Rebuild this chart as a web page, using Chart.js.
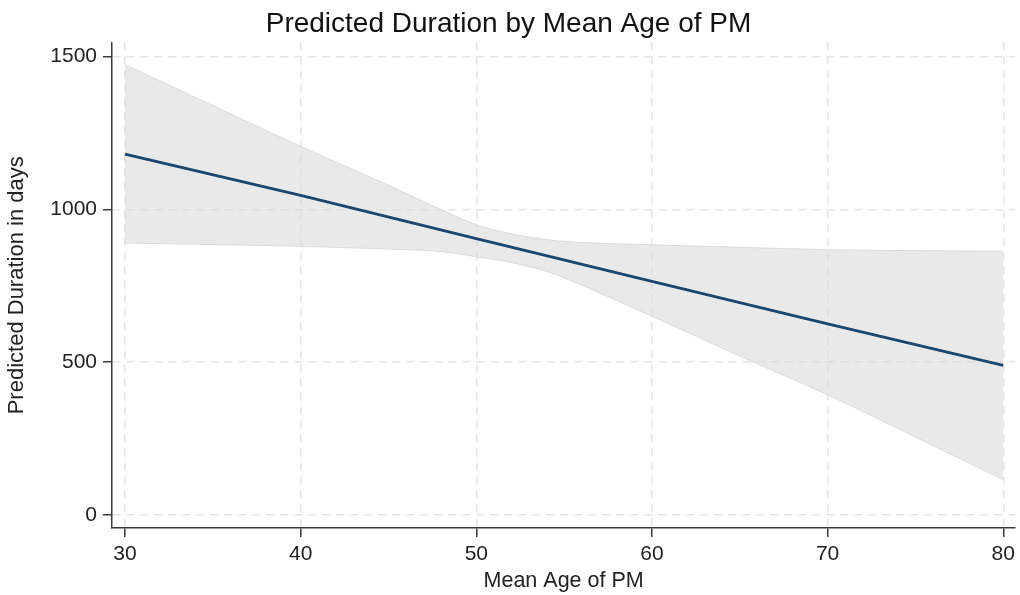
<!DOCTYPE html>
<html>
<head>
<meta charset="utf-8">
<script src="https://cdn.jsdelivr.net/npm/chart.js@4/dist/chart.umd.min.js"></script>
<style>
  html, body { margin: 0; padding: 0; background: #fff; }
  #wrap { width: 1020px; height: 595px; }
</style>
</head>
<body>
<div id="wrap"><canvas id="chart" width="1020" height="595"></canvas></div>
<script>
// predicted duration (linear fit)
const lineAges = [30, 40, 50, 60, 70, 80];
const lineValues = [1181, 1046, 904, 764, 625, 489];

// confidence band
const bandAges = [30, 35, 40, 45, 48, 50, 52, 54, 55, 60, 65, 70, 75, 80];
const bandUpper = [1474, 1340, 1206, 1079, 999, 950, 920, 901, 895, 884, 876, 868, 865, 863];
const bandLower = [890, 885, 879, 870, 862, 845, 826, 797, 776, 650, 520, 393, 255, 115];

const xTicks = [30, 40, 50, 60, 70, 80];
const yTicks = [0, 500, 1000, 1500];

const FONT = "'Liberation Sans', Arial, sans-serif";
const axisColor = "#3a3a3a";
const gridColor = "#e4e4e4";

const toPoints = (xs, ys) => xs.map((x, i) => ({ x, y: ys[i] }));

new Chart(document.getElementById("chart"), {
  type: "line",
  data: {
    datasets: [
      {
        label: "lower",
        data: toPoints(bandAges, bandLower),
        borderColor: "#dadada",
        borderWidth: 1,
        pointRadius: 0,
        cubicInterpolationMode: "monotone",
        fill: false,
        order: 2,
      },
      {
        label: "upper",
        data: toPoints(bandAges, bandUpper),
        borderColor: "#dadada",
        borderWidth: 1,
        backgroundColor: "rgba(218,218,218,0.6)",
        pointRadius: 0,
        cubicInterpolationMode: "monotone",
        fill: "-1",
        order: 1,
      },
      {
        label: "prediction",
        data: toPoints(lineAges, lineValues),
        borderColor: "#1a476f",
        borderWidth: 2.8,
        pointRadius: 0,
        fill: false,
        order: 0,
      },
    ],
  },
  options: {
    responsive: false,
    animation: false,
    layout: { padding: { left: 0, right: 3, top: 0, bottom: 0 } },
    plugins: {
      legend: { display: false },
      tooltip: { enabled: false },
      title: {
        display: true,
        text: "Predicted Duration by Mean Age of PM",
        color: "#111",
        font: { family: FONT, size: 28, weight: "normal", lineHeight: 1.2 },
        padding: { top: 7, bottom: 2 },
      },
    },
    scales: {
      x: {
        type: "linear",
        min: 29.26,
        max: 80.68,
        afterBuildTicks: (scale) => { scale.ticks = xTicks.map((v) => ({ value: v })); },
        afterFit: (scale) => { scale.height = 67; },
        ticks: { color: "#222", font: { family: FONT, size: 21 }, padding: 5, maxRotation: 0, callback: (v) => String(v) },
        grid: { color: gridColor, lineWidth: 1.5, tickColor: axisColor, tickLength: 9, tickWidth: 1.5, tickBorderDash: [] },
        border: { display: true, color: axisColor, width: 1.5, dash: [8, 6] },
        title: {
          display: true,
          text: "Mean Age of PM",
          color: "#222",
          font: { family: FONT, size: 21.5 },
          padding: { top: 0, bottom: 1 },
        },
      },
      y: {
        type: "linear",
        min: -43,
        max: 1546,
        afterBuildTicks: (scale) => { scale.ticks = yTicks.map((v) => ({ value: v })); },
        afterFit: (scale) => { scale.width = 112; },
        ticks: { color: "#222", font: { family: FONT, size: 21 }, padding: 6, callback: (v) => String(v) },
        grid: { color: gridColor, lineWidth: 1.5, tickColor: axisColor, tickLength: 9, tickWidth: 1.5, tickBorderDash: [] },
        border: { display: true, color: axisColor, width: 1.5, dash: [8, 6] },
        title: {
          display: true,
          text: "Predicted Duration in days",
          color: "#222",
          font: { family: FONT, size: 22 },
          padding: { top: 4, bottom: 0 },
        },
      },
    },
  },
});
</script>
</body>
</html>
